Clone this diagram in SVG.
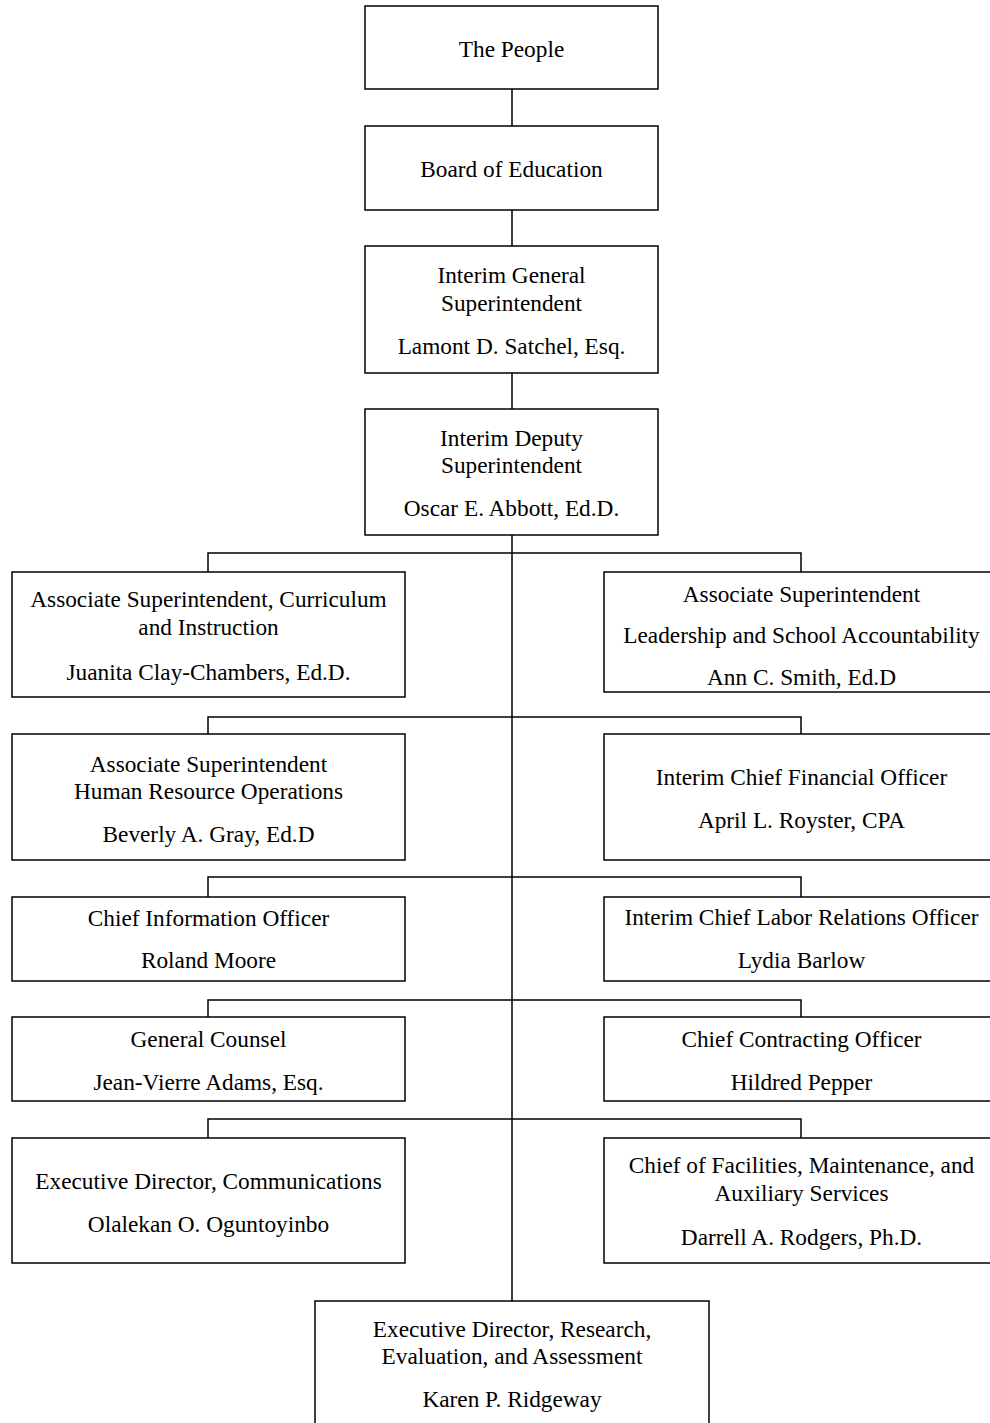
<svg xmlns="http://www.w3.org/2000/svg" width="990" height="1423" viewBox="0 0 990 1423">
<style>
.box{fill:#fff;stroke:#000;stroke-width:1.5}
.con{fill:none;stroke:#000;stroke-width:1.5}
text{font-family:"Liberation Serif","Times New Roman",serif;font-size:23.3px;fill:#000;text-anchor:middle}
</style>
<rect width="990" height="1423" fill="#fff"/>
<g id="connectors">
<path class="con" d="M512,89V126M512,210V246M512,373V409M512,535V1301"/>
<path class="con" d="M208,572V553H801V572"/>
<path class="con" d="M208,734V717H801V734"/>
<path class="con" d="M208,897V877H801V897"/>
<path class="con" d="M208,1017V1000H801V1017"/>
<path class="con" d="M208,1138V1119H801V1138"/>
</g>
<g id="people"><rect class="box" x="365" y="6" width="293" height="83"/><text x="511.5" y="57">The People</text></g>
<g id="board"><rect class="box" x="365" y="126" width="293" height="84"/><text x="511.5" y="177">Board of Education</text></g>
<g id="gensup"><rect class="box" x="365" y="246" width="293" height="127"/><text x="511.5" y="283">Interim General</text><text x="511.5" y="311">Superintendent</text><text x="511.5" y="354">Lamont D. Satchel, Esq.</text></g>
<g id="depsup"><rect class="box" x="365" y="409" width="293" height="126"/><text x="511.5" y="446">Interim Deputy</text><text x="511.5" y="473">Superintendent</text><text x="511.5" y="516">Oscar E. Abbott, Ed.D.</text></g>
<g id="curriculum"><rect class="box" x="12" y="572" width="393" height="125"/><text x="208.5" y="607">Associate Superintendent, Curriculum</text><text x="208.5" y="635">and Instruction</text><text x="208.5" y="680">Juanita Clay-Chambers, Ed.D.</text></g>
<g id="leadership"><rect class="box" x="604" y="572" width="394" height="120"/><text x="801.5" y="602">Associate Superintendent</text><text x="801.5" y="643">Leadership and School Accountability</text><text x="801.5" y="685">Ann C. Smith, Ed.D</text></g>
<g id="hr"><rect class="box" x="12" y="734" width="393" height="126"/><text x="208.5" y="772">Associate Superintendent</text><text x="208.5" y="799">Human Resource Operations</text><text x="208.5" y="842">Beverly A. Gray, Ed.D</text></g>
<g id="cfo"><rect class="box" x="604" y="734" width="394" height="126"/><text x="801.5" y="785">Interim Chief Financial Officer</text><text x="801.5" y="828">April L. Royster, CPA</text></g>
<g id="cio"><rect class="box" x="12" y="897" width="393" height="84"/><text x="208.5" y="926">Chief Information Officer</text><text x="208.5" y="968">Roland Moore</text></g>
<g id="labor"><rect class="box" x="604" y="897" width="394" height="84"/><text x="801.5" y="925">Interim Chief Labor Relations Officer</text><text x="801.5" y="968">Lydia Barlow</text></g>
<g id="counsel"><rect class="box" x="12" y="1017" width="393" height="84"/><text x="208.5" y="1047">General Counsel</text><text x="208.5" y="1090">Jean-Vierre Adams, Esq.</text></g>
<g id="contracting"><rect class="box" x="604" y="1017" width="394" height="84"/><text x="801.5" y="1047">Chief Contracting Officer</text><text x="801.5" y="1090">Hildred Pepper</text></g>
<g id="communications"><rect class="box" x="12" y="1138" width="393" height="125"/><text x="208.5" y="1189">Executive Director, Communications</text><text x="208.5" y="1232">Olalekan O. Oguntoyinbo</text></g>
<g id="facilities"><rect class="box" x="604" y="1138" width="394" height="125"/><text x="801.5" y="1173">Chief of Facilities, Maintenance, and</text><text x="801.5" y="1201">Auxiliary Services</text><text x="801.5" y="1245">Darrell A. Rodgers, Ph.D.</text></g>
<g id="research"><rect class="box" x="315" y="1301" width="394" height="140"/><text x="512" y="1337">Executive Director, Research,</text><text x="512" y="1364">Evaluation, and Assessment</text><text x="512" y="1407">Karen P. Ridgeway</text></g>
</svg>
